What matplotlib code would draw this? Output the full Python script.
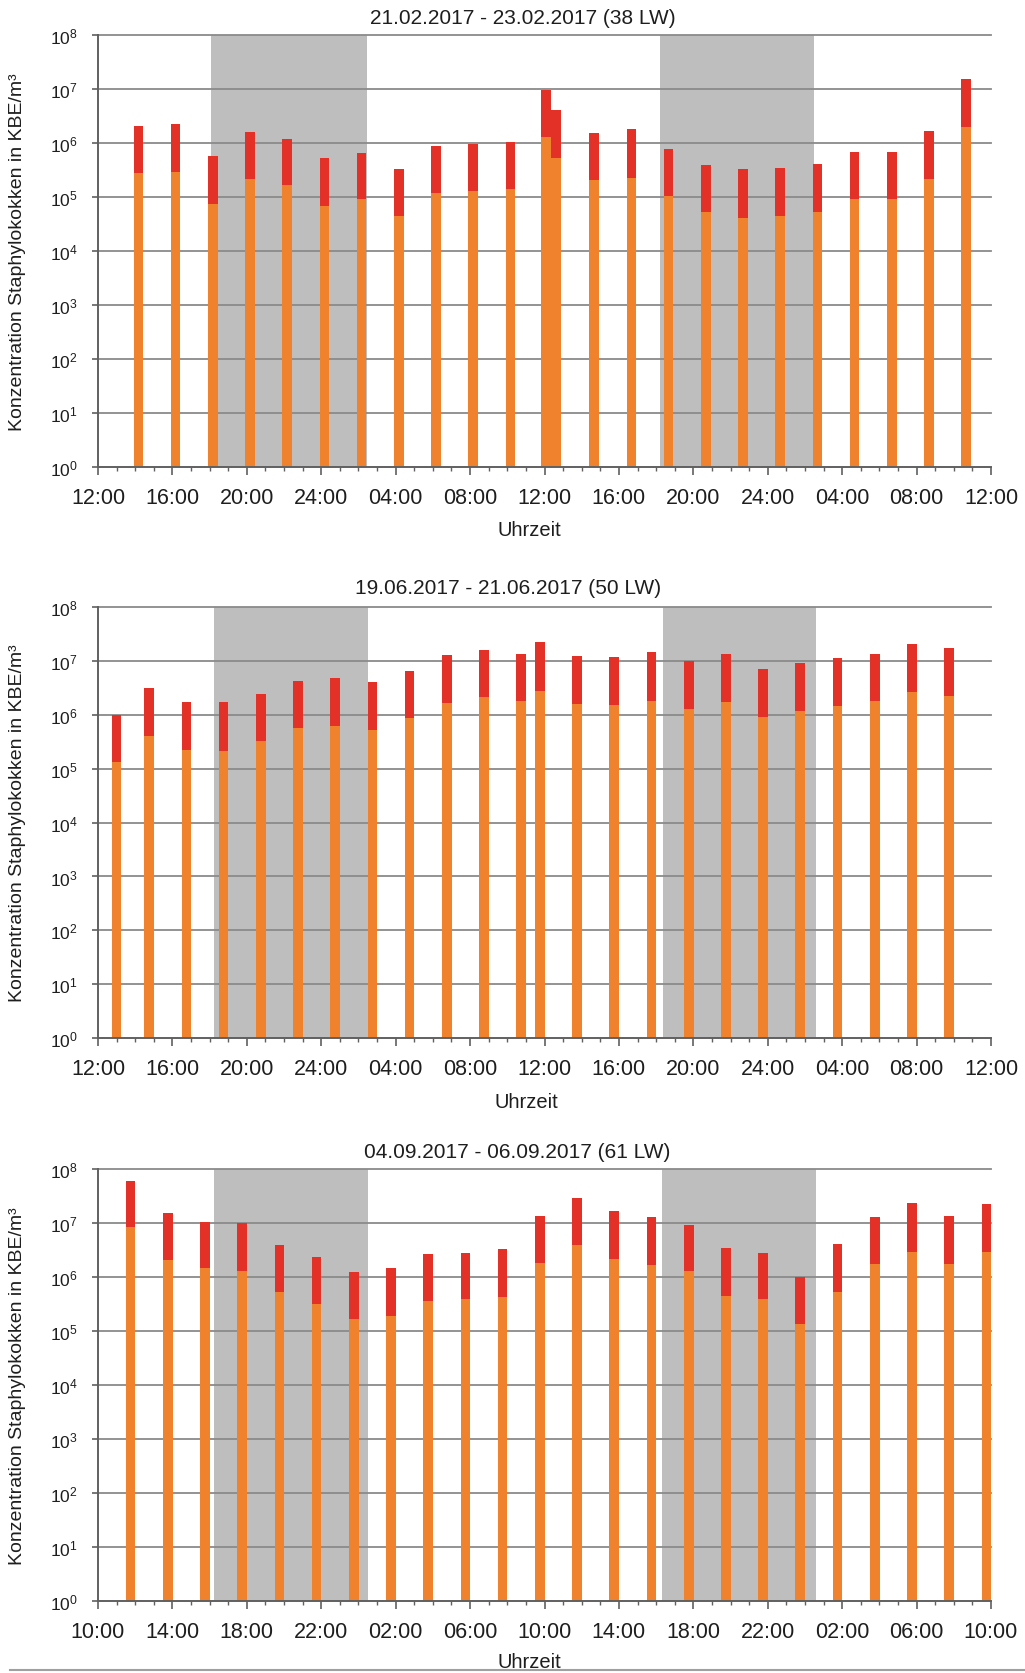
import matplotlib
matplotlib.use('Agg')
import matplotlib.pyplot as plt
from matplotlib.lines import Line2D

plt.rcParams['font.family'] = ['Liberation Sans', 'DejaVu Sans']
plt.rcParams['mathtext.fontset'] = 'custom'
plt.rcParams['mathtext.rm'] = 'Liberation Sans'
plt.rcParams['mathtext.it'] = 'Liberation Sans:italic'
plt.rcParams['mathtext.default'] = 'regular'

# ---------------- data ----------------
titles = ["21.02.2017 - 23.02.2017 (38 LW)",
          "19.06.2017 - 21.06.2017 (50 LW)",
          "04.09.2017 - 06.09.2017 (61 LW)"]

ticklabels_12 = ["12:00", "16:00", "20:00", "24:00", "04:00", "08:00", "12:00",
                 "16:00", "20:00", "24:00", "04:00", "08:00", "12:00"]
ticklabels_10 = ["10:00", "14:00", "18:00", "22:00", "02:00", "06:00", "10:00",
                 "14:00", "18:00", "22:00", "02:00", "06:00", "10:00"]

# sampling times, hours after the left end of the axis
p1_hours = [2.17, 4.17, 6.17, 8.17, 10.17, 12.17, 14.17, 16.17, 18.17, 20.17, 22.17,
            24.09, 24.61, 26.67, 28.67, 30.67, 32.67, 34.67, 36.67, 38.67, 40.67,
            42.67, 44.67, 46.67]
p1_orange = [2.8e5, 2.9e5, 7.4e4, 2.1e5, 1.62e5, 6.8e4, 8.9e4, 4.4e4, 1.15e5, 1.27e5,
             1.4e5, 1.27e6, 5.3e5, 2.04e5, 2.25e5, 1.01e5, 5.1e4, 4.0e4, 4.4e4, 5.3e4,
             9.1e4, 8.9e4, 2.1e5, 1.92e6]
p1_total = [2.07e6, 2.2e6, 5.7e5, 1.58e6, 1.19e6, 5.1e5, 6.5e5, 3.3e5, 8.8e5, 9.4e5,
            1.03e6, 9.6e6, 4.1e6, 1.53e6, 1.77e6, 7.7e5, 3.9e5, 3.2e5, 3.35e5, 4.1e5,
            6.7e5, 6.7e5, 1.67e6, 1.51e7]
p1_night = [(6.08, 14.46), (30.2, 38.5)]

p2_hours = [1.0, 2.75, 4.75, 6.75, 8.75, 10.75, 12.75, 14.75, 16.75, 18.75, 20.75,
            22.75, 23.75, 25.75, 27.75, 29.75, 31.75, 33.75, 35.75, 37.75, 39.75,
            41.75, 43.75, 45.75]
p2_orange = [1.32e5, 4.0e5, 2.27e5, 2.14e5, 3.3e5, 5.7e5, 6.3e5, 5.3e5, 8.7e5, 1.69e6,
             2.13e6, 1.8e6, 2.83e6, 1.6e6, 1.56e6, 1.82e6, 1.31e6, 1.74e6, 9.3e5,
             1.19e6, 1.47e6, 1.8e6, 2.64e6, 2.28e6]
p2_total = [1.0e6, 3.2e6, 1.74e6, 1.72e6, 2.5e6, 4.35e6, 4.9e6, 4.05e6, 6.7e6, 1.32e7,
            1.59e7, 1.36e7, 2.24e7, 1.25e7, 1.19e7, 1.46e7, 1.0e7, 1.34e7, 7.1e6,
            9.1e6, 1.13e7, 1.38e7, 2.06e7, 1.76e7]
p2_night = [(6.25, 14.5), (30.35, 38.62)]

p3_hours = [1.75, 3.75, 5.75, 7.75, 9.75, 11.75, 13.75, 15.75, 17.75, 19.75, 21.75,
            23.75, 25.75, 27.75, 29.75, 31.75, 33.75, 35.75, 37.75, 39.75, 41.75,
            43.75, 45.75, 47.75]
p3_orange = [8.3e6, 2.07e6, 1.45e6, 1.29e6, 5.3e5, 3.16e5, 1.64e5, 1.9e5, 3.6e5,
             3.86e5, 4.26e5, 1.79e6, 3.9e6, 2.15e6, 1.69e6, 1.29e6, 4.4e5, 3.97e5,
             1.35e5, 5.3e5, 1.72e6, 2.94e6, 1.74e6, 2.94e6]
p3_total = [6.1e7, 1.53e7, 1.04e7, 9.9e6, 3.9e6, 2.38e6, 1.24e6, 1.45e6, 2.67e6,
            2.82e6, 3.25e6, 1.33e7, 2.94e7, 1.67e7, 1.31e7, 9.2e6, 3.4e6, 2.82e6,
            9.9e5, 4.0e6, 1.29e7, 2.31e7, 1.33e7, 2.25e7]
p3_night = [(6.22, 14.5), (30.3, 38.6)]

ylabel = "Konzentration Staphylokokken in KBE/m³"
xlabel = "Uhrzeit"

# ---------------- style ----------------
ORANGE = '#F0822D'
RED = '#E43128'
NIGHT = '#BEBEBE'
GRID = '#8A8A8A'
AXC = '#606060'
TXT = '#1e1e1e'

W, H = 1025, 1674
fig = plt.figure(figsize=(W / 100, H / 100), dpi=100)

panels = [
    dict(title=titles[0], hours=p1_hours, orange=p1_orange, total=p1_total,
         night=p1_night, labels=ticklabels_12, top=35.7, bottom=467.7,
         title_xy=(523, 19), xlab_xy=(529, 531)),
    dict(title=titles[1], hours=p2_hours, orange=p2_orange, total=p2_total,
         night=p2_night, labels=ticklabels_12, top=608.3, bottom=1039.0,
         title_xy=(508, 588), xlab_xy=(526, 1103)),
    dict(title=titles[2], hours=p3_hours, orange=p3_orange, total=p3_total,
         night=p3_night, labels=ticklabels_10, top=1170.0, bottom=1601.7,
         title_xy=(517, 1153), xlab_xy=(529, 1663)),
]

LEFT, RIGHT = 98, 991
BW = 0.52

for p in panels:
    ax = fig.add_axes([LEFT / W, 1 - p['bottom'] / H, (RIGHT - LEFT) / W,
                       (p['bottom'] - p['top']) / H])
    ax.set_yscale('log')
    ax.set_xlim(0, 48)
    ax.set_ylim(1, 1e8)

    for a, b in p['night']:
        ax.axvspan(a, b, color=NIGHT, lw=0, zorder=0.2)
    for k in range(1, 9):
        ax.axhline(10 ** k, color=GRID, lw=1.3, zorder=0.5, clip_on=False)

    orange = p['orange']
    total = p['total']
    ax.bar(p['hours'], [o - 1 for o in orange], bottom=1, width=BW,
           color=ORANGE, lw=0, zorder=2)
    ax.bar(p['hours'], [t - o for t, o in zip(total, orange)], bottom=orange,
           width=BW, color=RED, lw=0, zorder=2)

    for s in ['top', 'right']:
        ax.spines[s].set_visible(False)
    for s in ['left', 'bottom']:
        ax.spines[s].set_color(AXC)
        ax.spines[s].set_linewidth(1.4)
        ax.spines[s].set_zorder(3)

    ax.set_xticks(range(0, 49, 4))
    ax.set_xticklabels(p['labels'])
    ax.set_xticks(range(0, 49, 1), minor=True)
    ax.tick_params(axis='x', which='major', length=5.5, width=1.2, color=AXC,
                   labelsize=15.5, pad=9, labelcolor=TXT)
    ax.tick_params(axis='x', which='minor', length=3, width=1.0, color=AXC)

    ax.set_yticks([10 ** k for k in range(0, 9)])
    ax.set_yticklabels([r'$10^{%d}$' % k for k in range(0, 9)])
    ax.yaxis.set_minor_locator(matplotlib.ticker.NullLocator())
    ax.tick_params(axis='y', which='major', length=4.5, width=1.2, color=AXC,
                   labelsize=12.5, pad=10, labelcolor=TXT)

    fig.text(p['title_xy'][0] / W, 1 - p['title_xy'][1] / H, p['title'],
             ha='center', va='center', fontsize=15, color=TXT)
    fig.text(p['xlab_xy'][0] / W, 1 - p['xlab_xy'][1] / H, xlabel,
             ha='center', va='center', fontsize=14.5, color=TXT)
    fig.text(18 / W, 1 - (p['top'] + p['bottom']) / 2 / H, ylabel,
             ha='center', va='center', rotation=90, fontsize=14, color=TXT)

fig.add_artist(Line2D([10 / W, 1.0], [1 - 1671 / H, 1 - 1671 / H],
                      color='#A0A0A0', lw=1.5))

fig.savefig('out.png', dpi=100)
